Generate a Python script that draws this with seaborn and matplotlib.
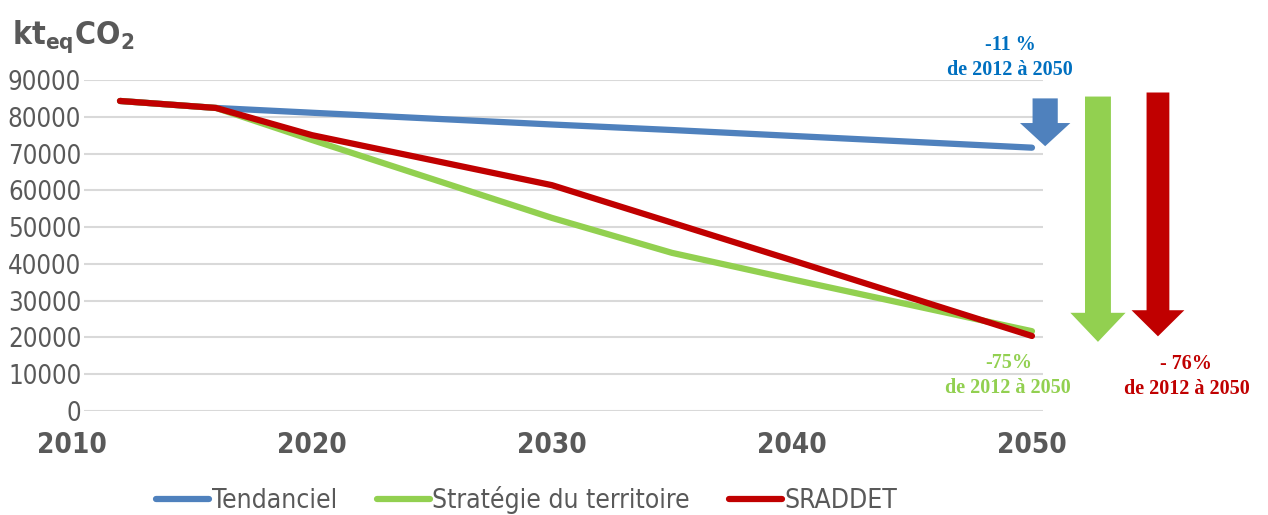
import matplotlib
matplotlib.use("Agg")
import matplotlib.pyplot as plt
from matplotlib.patches import FancyArrow
import seaborn as sns
import pandas as pd

# données (kteqCO2)
annees = [2012, 2016, 2020, 2030, 2035, 2040, 2050]
tendanciel = [84300, 82400, 81100, 77900, 76400, 74800, 71600]
strategie = [84300, 82400, 73700, 52500, 43000, 35800, 21700]
sraddet = [84300, 82400, 75000, 61400, 51200, 41000, 20400]
series = ["Tendanciel", "Stratégie du territoire", "SRADDET"]
couleurs = ["#4F81BD", "#92D050", "#C00000"]
y_ticks = list(range(0, 90001, 10000))
x_ticks = [2010, 2020, 2030, 2040, 2050]

df = pd.DataFrame({
    "annee": annees * 3,
    "valeur": tendanciel + strategie + sraddet,
    "scenario": [s for s in series for _ in annees],
})

sns.set_theme(style="white")
plt.rcParams['font.family'] = ['DejaVu Sans']
plt.rcParams['font.stretch'] = 'condensed'
plt.rcParams['mathtext.fontset'] = 'dejavusans'
gris = "#595959"

fig = plt.figure(figsize=(12.68, 5.15), dpi=100)
ax = fig.add_axes([84 / 1268, 104 / 515, 959 / 1268, 331 / 515])

sns.lineplot(data=df, x="annee", y="valeur", hue="scenario", hue_order=series,
             palette=couleurs, linewidth=4.5, ax=ax, legend=True)
for l in ax.lines:
    l.set_solid_capstyle("round")
    l.set_solid_joinstyle("round")

ax.set_xlim(2010.5, 2050.46)
ax.set_ylim(0, 90000)
ax.set_yticks(y_ticks)
ax.set_yticklabels([str(v) for v in y_ticks], fontsize=18.5, color=gris)
ax.tick_params(axis="y", length=0, pad=2)
ax.set_xticks([])
ax.grid(axis="y", color="#D9D9D9", linewidth=1.5)
ax.set_axisbelow(True)
for s in ax.spines.values():
    s.set_visible(False)
ax.set_xlabel("")
ax.set_ylabel("")

# étiquettes de l'axe des x
for a in x_ticks:
    ax.text(a, -9300, str(a), ha="center", va="center", fontsize=20,
            fontweight="bold", color=gris, clip_on=False)

# titre de l'axe y
fig.text(12 / 1268, 1 - 44 / 515, r"kt$_{\mathbf{eq}}$CO$_{\mathbf{2}}$",
         fontsize=23, fontweight="bold", color=gris, ha="left", va="baseline")

# flèches
fleches = [
    # x, haut, bas, largeur, tête, long. tête, couleur
    (2050.55, 85000, 72000, 1.05, 2.1, 6300, "#4F81BD"),
    (2052.75, 85500, 18800, 1.08, 2.3, 7900, "#92D050"),
    (2055.25, 86600, 20300, 0.95, 2.2, 7100, "#C00000"),
]
for x, haut, bas, larg, tete, lt, c in fleches:
    ax.add_patch(FancyArrow(x, haut, 0, bas - haut, width=larg, head_width=tete,
                            head_length=lt, length_includes_head=True,
                            color=c, clip_on=False, linewidth=0))

serif = ["Liberation Serif", "DejaVu Serif"]
annots = [
    (2049.1, 99500, "-11 %", "#0070C0"),
    (2049.1, 92700, "de 2012 à 2050", "#0070C0"),
    (2049.05, 13000, "-75%", "#92D050"),
    (2049.0, 6200, "de 2012 à 2050", "#92D050"),
    (2056.4, 12800, "- 76%", "#C00000"),
    (2056.45, 6000, "de 2012 à 2050", "#C00000"),
]
for x, y, t, c in annots:
    ax.text(x, y, t, ha="center", va="center", fontsize=14.5, fontweight="bold",
            color=c, family=serif, fontstretch="normal", clip_on=False)

# légende
h, lab = ax.get_legend_handles_labels()
ax.get_legend().remove()
fig.legend(h, lab, loc="center", bbox_to_anchor=(527 / 1268, 1 - 500 / 515),
           ncol=3, frameon=False, fontsize=19, labelcolor=gris,
           handlelength=2.0, handletextpad=0.1, columnspacing=1.5)

fig.savefig("out.png", dpi=100)
